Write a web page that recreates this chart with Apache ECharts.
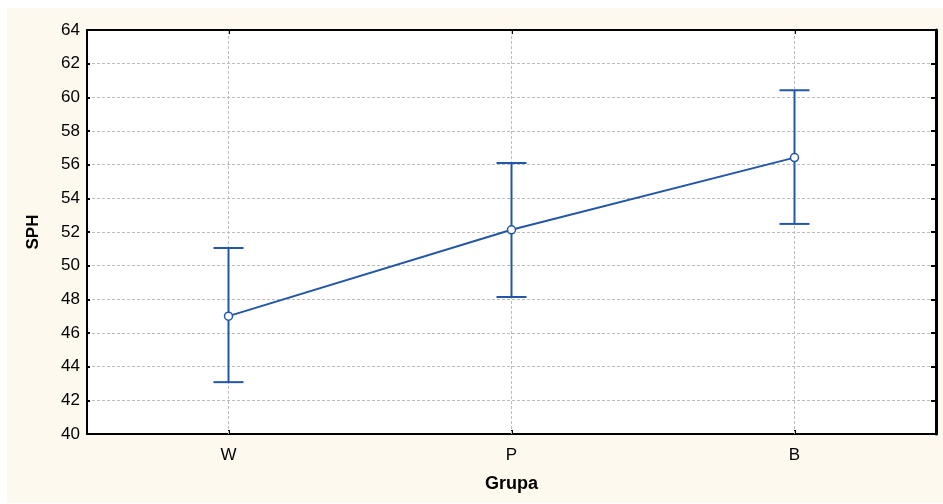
<!DOCTYPE html>
<html><head><meta charset="utf-8">
<script src="https://cdn.jsdelivr.net/npm/echarts@6/dist/echarts.min.js"></script>
<style>
html,body{margin:0;padding:0;background:#fff;}
#bg{position:absolute;left:7px;top:8px;width:936px;height:495px;background:#fdf9ee;}
#c{position:absolute;left:0;top:0;width:943px;height:504px;}
</style></head>
<body><div id="bg"></div><div id="c"></div>
<script>
const categories = ['W', 'P', 'B'];
const means = [47.0, 52.13, 56.42];
const lower = [43.08, 48.14, 52.48];
const upper = [51.05, 56.1, 60.42];
const yTicks = [40, 42, 44, 46, 48, 50, 52, 54, 56, 58, 60, 62, 64];

const blue = '#2456a6';
const chart = echarts.init(document.getElementById('c'), null, {renderer: 'canvas'});
const font = 'Liberation Sans, Arial, sans-serif';
chart.setOption({
  backgroundColor: 'transparent',
  animation: false,
  grid: {left: 87, right: 7, top: 30, bottom: 70, backgroundColor: '#fff', show: true, borderWidth: 0},
  xAxis: [{
    type: 'category', data: categories, boundaryGap: true, position: 'bottom',
    name: 'Grupa', nameLocation: 'middle', nameGap: 41,
    nameTextStyle: {fontFamily: font, fontSize: 18, fontWeight: 'bold', color: '#000'},
    axisLine: {lineStyle: {color: '#000', width: 2}},
    axisTick: {show: true, alignWithLabel: true, inside: true, length: 4, lineStyle: {color: '#000', width: 2}},
    axisLabel: {fontFamily: font, fontSize: 17, color: '#000', margin: 13},
    splitLine: {show: false}
  }, {
    type: 'category', data: categories, boundaryGap: true, position: 'top',
    axisLine: {lineStyle: {color: '#000', width: 2}},
    axisTick: {show: true, alignWithLabel: true, inside: true, length: 4, lineStyle: {color: '#000', width: 2}},
    axisLabel: {show: false}, splitLine: {show: false}
  }],
  yAxis: [{
    type: 'value', min: yTicks[0], max: yTicks[yTicks.length - 1], interval: 2, position: 'left',
    name: 'SPH', nameLocation: 'middle', nameGap: 45,
    nameTextStyle: {fontFamily: font, fontSize: 17, fontWeight: 'bold', color: '#000'},
    axisLine: {show: true, lineStyle: {color: '#000', width: 2}},
    axisTick: {show: true, inside: true, length: 3, lineStyle: {color: '#000', width: 2}},
    axisLabel: {fontFamily: font, fontSize: 17, color: '#000', margin: 7},
    splitLine: {show: true, lineStyle: {color: '#bdbdbd', type: [3, 2], width: 1}}
  }, {
    type: 'value', min: yTicks[0], max: yTicks[yTicks.length - 1], interval: 2, position: 'right',
    axisLine: {show: true, lineStyle: {color: '#000', width: 3}},
    axisTick: {show: true, inside: true, length: 5, lineStyle: {color: '#000', width: 2}},
    axisLabel: {show: false}, splitLine: {show: false}
  }],
  series: [{
    type: 'line', data: means, xAxisIndex: 0, yAxisIndex: 0, z: 5,
    lineStyle: {color: blue, width: 2},
    itemStyle: {color: '#fff', borderColor: blue, borderWidth: 1.5},
    symbol: 'circle', symbolSize: 8,
    markLine: {
      silent: true, symbol: 'none', label: {show: false},
      lineStyle: {color: '#bdbdbd', type: [3, 2], width: 1},
      data: categories.map(c => ({xAxis: c})),
      z: 1
    }
  }, {
    type: 'custom', xAxisIndex: 0, yAxisIndex: 0, z: 4,
    data: categories.map((c, i) => [i, lower[i], upper[i]]),
    renderItem: function (params, api) {
      const lo = api.coord([api.value(0), api.value(1)]);
      const hi = api.coord([api.value(0), api.value(2)]);
      const hw = 15;
      const st = {stroke: blue, lineWidth: 2};
      return {type: 'group', children: [
        {type: 'line', shape: {x1: lo[0], y1: lo[1], x2: hi[0], y2: hi[1]}, style: st},
        {type: 'line', shape: {x1: lo[0] - hw, y1: lo[1], x2: lo[0] + hw, y2: lo[1]}, style: st},
        {type: 'line', shape: {x1: hi[0] - hw, y1: hi[1], x2: hi[0] + hw, y2: hi[1]}, style: st}
      ]};
    }
  }]
});
</script></body></html>
